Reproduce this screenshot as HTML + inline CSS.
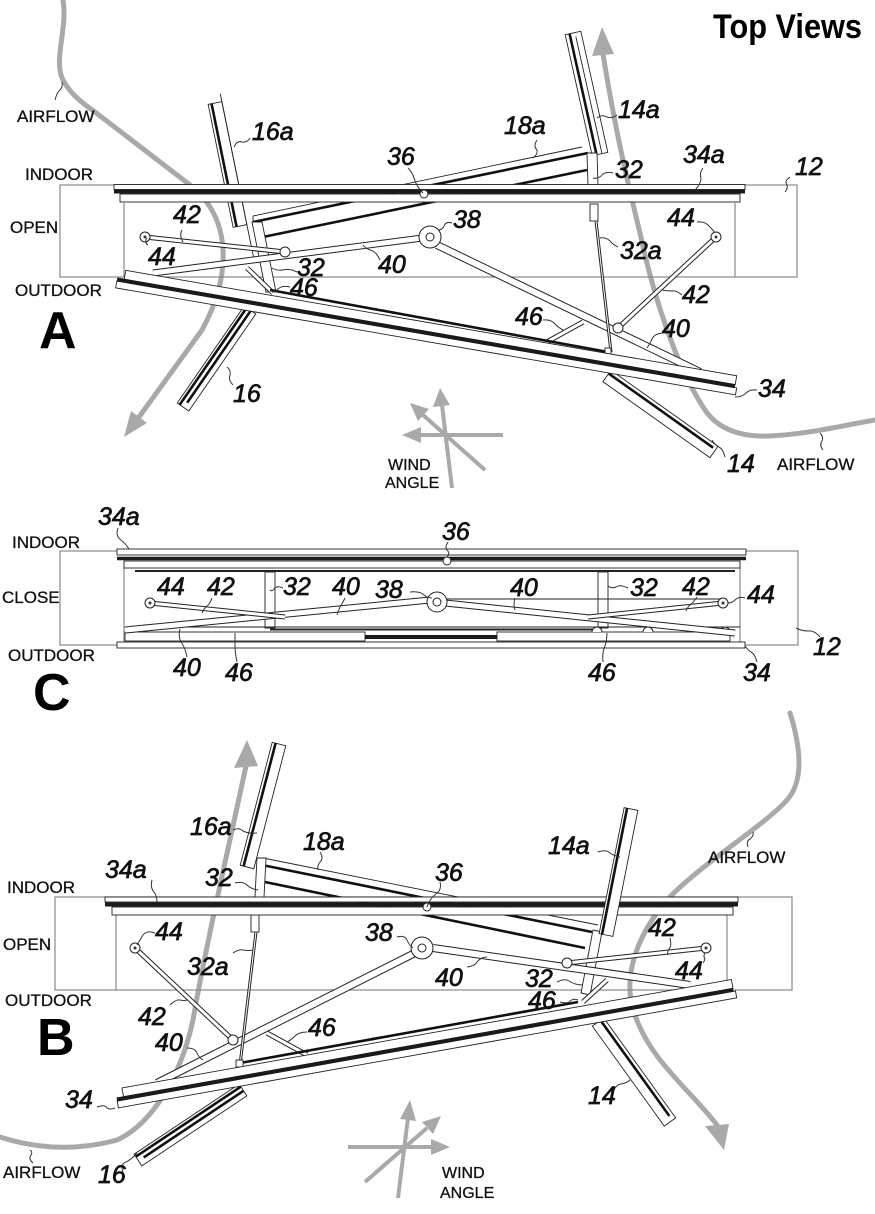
<!DOCTYPE html>
<html><head><meta charset="utf-8">
<style>
html,body{margin:0;padding:0;background:#fff;}
svg{display:block;}
.n{font-family:"Liberation Sans",sans-serif;font-style:italic;font-size:25px;fill:#111;stroke:#111;stroke-width:0.7;}
.u{font-family:"Liberation Sans",sans-serif;font-size:17px;fill:#111;stroke:#111;stroke-width:0.3;}
.w{font-family:"Liberation Sans",sans-serif;font-size:16px;fill:#111;stroke:#111;stroke-width:0.3;}
.big{font-family:"Liberation Sans",sans-serif;font-weight:bold;font-size:52px;fill:#000;}
.t{font-family:"Liberation Sans",sans-serif;font-weight:bold;font-size:34px;fill:#000;}
.air{fill:none;stroke:#a9a9a9;stroke-width:5;stroke-linecap:round;stroke-linejoin:round}
.wa{stroke:#a9a9a9;stroke-width:4;fill:none}
.ah{fill:#a9a9a9;stroke:none}
.ld{fill:none;stroke:#333;stroke-width:1}
.box{fill:none;stroke:#888;stroke-width:1.2}
.pn{fill:#fff;stroke:#222;stroke-width:0.9}
.bk{stroke:#111;stroke-width:2.6}
.th{stroke:#222;stroke-width:0.9}
.ro{stroke:#222;fill:none}
.ri{stroke:#fff;fill:none}
.cw{fill:#fff;stroke:#222;stroke-width:1}
</style></head><body>
<svg width="875" height="1214" viewBox="0 0 875 1214" xmlns="http://www.w3.org/2000/svg">

<!-- ================= PANEL A ================= -->
<path class="air" d="M63,0 C68,30 52,62 64,82 C72,95 82,103 95,112 L190,185 C232,218 232,275 202,330 L139,417"/>
<polygon class="ah" points="124,437 147,423 131,411"/>
<path class="air" d="M603,54 C612,110 622,160 640,233 C652,290 675,365 705,410 C720,432 745,437 770,436 C810,434 845,425 875,420"/>
<polygon class="ah" points="602,27 592,56 614,54"/>
<line class="wa" x1="420" y1="435" x2="503" y2="435"/>
<polygon class="ah" points="402,435 421,427 421,443"/>
<line class="wa" x1="452" y1="488" x2="442" y2="405"/>
<polygon class="ah" points="440,388 433,407 450,405"/>
<line class="wa" x1="485" y1="470" x2="423" y2="415"/>
<polygon class="ah" points="410,403 429,409 418,421"/>

<rect class="box" x="60" y="185" width="737" height="92"/>
<line class="box" x1="124" y1="203" x2="124" y2="277"/>
<line class="box" x1="735" y1="203" x2="735" y2="277"/>

<line class="th" x1="253" y1="216" x2="582" y2="147"/>
<line class="bk" x1="253" y1="222" x2="588" y2="153"/>
<line class="bk" x1="263" y1="237" x2="587" y2="170"/>
<line class="th" x1="253" y1="216" x2="253" y2="224"/>

<g transform="translate(215,103) rotate(78.51)">
<rect class="pn" x="0" y="-7" width="125.5" height="14"/>
<line class="bk" x1="0" y1="3.5" x2="125.5" y2="3.5"/>
<line class="th" x1="-8" y1="-7" x2="160" y2="-7"/>
</g>
<g transform="translate(573,33) rotate(77.42)">
<rect class="pn" x="0" y="-8" width="124" height="16"/>
<line class="bk" x1="0" y1="3.5" x2="124" y2="3.5"/>
<line class="th" x1="4" y1="-2" x2="124" y2="-2"/>
</g>
<polygon class="pn" points="252,222 262,222 276,292 266,292"/>
<polygon class="pn" points="587,153 597,153 598,185 588,185"/>
<rect class="pn" x="590" y="204" width="8" height="17"/>

<rect class="pn" x="114" y="184.5" width="631" height="5"/>
<line x1="114" y1="191.5" x2="745" y2="191.5" stroke="#1a1a1a" stroke-width="4"/>
<rect class="pn" x="120" y="194" width="620" height="8"/>
<circle class="cw" cx="424" cy="194" r="4"/>

<line class="ro" stroke-width="7" x1="430" y1="237" x2="153" y2="273"/>
<line class="ri" stroke-width="5" x1="430" y1="237" x2="153" y2="273"/>
<line class="ro" stroke-width="5" x1="145" y1="237" x2="285" y2="252"/>
<line class="ri" stroke-width="3" x1="145" y1="237" x2="285" y2="252"/>
<line class="ro" stroke-width="8" x1="437" y1="245" x2="700" y2="372"/>
<line class="ri" stroke-width="6" x1="437" y1="245" x2="700" y2="372"/>
<line class="ro" stroke-width="5" x1="716" y1="237" x2="618" y2="328"/>
<line class="ri" stroke-width="3" x1="716" y1="237" x2="618" y2="328"/>
<line class="ro" stroke-width="5" x1="247" y1="268" x2="273" y2="293"/>
<line class="ri" stroke-width="3" x1="247" y1="268" x2="273" y2="293"/>
<line class="ro" stroke-width="5" x1="545" y1="343" x2="583" y2="322"/>
<line class="ri" stroke-width="3" x1="545" y1="343" x2="583" y2="322"/>
<line class="ro" stroke-width="3" x1="596" y1="221" x2="611" y2="352"/>
<line class="ri" stroke-width="1" x1="596" y1="221" x2="611" y2="352"/>
<circle class="cw" cx="285" cy="252" r="5"/>
<circle class="cw" cx="618" cy="328" r="5"/>
<circle class="cw" cx="145" cy="237" r="5"/><circle cx="145" cy="237" r="1.5" fill="#333"/>
<circle class="cw" cx="716" cy="237" r="5"/><circle cx="716" cy="237" r="1.5" fill="#333"/>
<circle class="cw" cx="430" cy="237" r="11" stroke-width="1.3"/><circle class="cw" cx="430" cy="237" r="4"/>

<line class="bk" x1="270" y1="290" x2="608" y2="352"/>
<rect class="pn" x="605" y="348" width="6" height="7"/>

<g transform="translate(250,310) rotate(124.63)">
<rect class="pn" x="0" y="-7" width="117.9" height="14"/>
<line class="bk" stroke-width="2.2" x1="0" y1="4" x2="117.9" y2="4"/>
<line class="bk" stroke-width="2.2" x1="0" y1="-1" x2="112" y2="-1"/>
</g>
<g transform="translate(607,376) rotate(35.38)">
<rect class="pn" x="0" y="-7" width="131.2" height="14"/>
<line class="bk" x1="0" y1="-3" x2="128" y2="-3"/>
</g>

<g transform="translate(117,280) rotate(9.79)">
<rect class="pn" x="7" y="-11" width="620" height="9"/>
<rect class="pn" x="0" y="1" width="629" height="7"/>
<line x1="0" y1="-0.5" x2="627" y2="-0.5" stroke="#1a1a1a" stroke-width="4"/>
</g>

<path class="ld" d="M55,100 q2,-8 5,-10 q3,-3 2,-8"/>
<path class="ld" d="M234,147 q3,-7 8,-5 q5,1 8,-4"/>
<path class="ld" d="M537,140 q-4,6 0,10 q1,4 -4,8"/>
<path class="ld" d="M597,118 q5,-4 10,-1 q5,2 10,-2"/>
<path class="ld" d="M408,168 q4,4 6,10 q2,8 9,15"/>
<path class="ld" d="M703,168 q-4,5 -2,10 q0,6 -6,12"/>
<path class="ld" d="M790,177 q-6,4 -3,8 q1,4 -2,7"/>
<path class="ld" d="M613,173 q-8,-2 -12,3 q-4,3 -8,2"/>
<path class="ld" d="M182,230 q-3,5 1,12"/>
<path class="ld" d="M452,223 q-6,-2 -8,3 q-2,4 -6,4"/>
<path class="ld" d="M697,222 q8,-1 12,4 q4,4 6,7"/>
<path class="ld" d="M148,245 q-4,-3 -1,-7"/>
<path class="ld" d="M618,247 q-6,-3 -8,-6 q-4,-4 -10,-3"/>
<path class="ld" d="M380,260 q-4,-9 -10,-10 q-5,-2 -7,-5"/>
<path class="ld" d="M297,272 q-8,-4 -14,-2 q-6,1 -11,-2"/>
<path class="ld" d="M290,287 q-8,-2 -12,2 q-3,3 -6,3"/>
<path class="ld" d="M682,295 q-6,-5 -10,-4 q-5,0 -10,-1"/>
<path class="ld" d="M543,320 q8,-1 12,4 q4,4 8,6"/>
<path class="ld" d="M662,333 q-8,1 -10,6 q-2,5 -5,9"/>
<path class="ld" d="M233,385 q-5,-5 -3,-10 q1,-5 -3,-8"/>
<path class="ld" d="M757,390 q-8,-1 -12,4 q-4,3 -10,3"/>
<path class="ld" d="M725,457 q-2,-8 -6,-10 q-5,-3 -7,-7"/>
<path class="ld" d="M823,450 q-4,-5 -1,-9 q2,-4 -2,-8"/>

<text class="t" x="713" y="38" textLength="149" lengthAdjust="spacingAndGlyphs">Top Views</text>
<text class="u" x="17" y="122">AIRFLOW</text>
<text class="n" x="252" y="140">16a</text>
<text class="n" x="504" y="134">18a</text>
<text class="n" x="618" y="118">14a</text>
<text class="n" x="387" y="165">36</text>
<text class="n" x="683" y="163">34a</text>
<text class="n" x="795" y="175">12</text>
<text class="u" x="25" y="180">INDOOR</text>
<text class="n" x="615" y="178">32</text>
<text class="n" x="173" y="223">42</text>
<text class="n" x="453" y="228">38</text>
<text class="n" x="667" y="226">44</text>
<text class="u" x="10" y="233">OPEN</text>
<text class="n" x="148" y="265">44</text>
<text class="n" x="620" y="259">32a</text>
<text class="n" x="378" y="273">40</text>
<text class="n" x="297" y="276">32</text>
<text class="n" x="290" y="296">46</text>
<text class="u" x="15" y="296">OUTDOOR</text>
<text class="n" x="682" y="303">42</text>
<text class="big" x="39" y="348">A</text>
<text class="n" x="515" y="325">46</text>
<text class="n" x="662" y="337">40</text>
<text class="n" x="233" y="402">16</text>
<text class="n" x="758" y="397">34</text>
<text class="n" x="727" y="472">14</text>
<text class="u" x="777" y="470">AIRFLOW</text>
<text class="w" x="388" y="470">WIND</text>
<text class="w" x="385" y="488">ANGLE</text>

<!-- ================= PANEL C ================= -->
<rect class="box" x="60" y="551" width="738" height="94"/>
<line class="box" x1="124" y1="565" x2="124" y2="642"/>
<line class="box" x1="740" y1="565" x2="740" y2="642"/>
<rect class="pn" x="117" y="549" width="629" height="6"/>
<line x1="117" y1="558.5" x2="746" y2="558.5" stroke="#1a1a1a" stroke-width="3.5"/>
<rect class="pn" x="124" y="561" width="616" height="7"/>
<line x1="135" y1="571" x2="735" y2="571" stroke="#222" stroke-width="2"/>
<circle class="cw" cx="447" cy="561" r="4"/>
<rect class="pn" x="265" y="572" width="10" height="56"/>
<rect class="pn" x="598" y="572" width="10" height="56"/>
<line class="th" x1="125" y1="627" x2="740" y2="627"/>
<line x1="270" y1="629.5" x2="600" y2="629.5" stroke="#222" stroke-width="2"/>
<rect class="pn" x="125" y="632" width="240" height="9"/>
<rect class="pn" x="497" y="632" width="233" height="9"/>
<line x1="365" y1="637" x2="497" y2="637" stroke="#1a1a1a" stroke-width="4"/>
<rect class="pn" x="117" y="642" width="628" height="6"/>
<path class="cw" d="M133,632 a5,5 0 0 1 10,0"/>
<path class="cw" d="M592,632 a5,5 0 0 1 10,0"/>
<path class="cw" d="M643,632 a5,5 0 0 1 10,0"/>
<path class="cw" d="M720,632 a5,5 0 0 1 10,0"/>
<line class="th" x1="445" y1="599" x2="723" y2="599"/>
<line class="ro" stroke-width="7" x1="430" y1="600" x2="125" y2="630"/>
<line class="ri" stroke-width="5" x1="430" y1="600" x2="125" y2="630"/>
<line class="ro" stroke-width="5" x1="150" y1="603" x2="285" y2="617"/>
<line class="ri" stroke-width="3" x1="150" y1="603" x2="285" y2="617"/>
<line class="ro" stroke-width="7" x1="445" y1="603" x2="735" y2="633"/>
<line class="ri" stroke-width="5" x1="445" y1="603" x2="735" y2="633"/>
<line class="ro" stroke-width="5" x1="723" y1="603" x2="588" y2="617"/>
<line class="ri" stroke-width="3" x1="723" y1="603" x2="588" y2="617"/>
<circle class="cw" cx="150" cy="603" r="5"/><circle cx="150" cy="603" r="1.5" fill="#333"/>
<circle class="cw" cx="723" cy="603" r="5"/><circle cx="723" cy="603" r="1.5" fill="#333"/>
<circle class="cw" cx="437" cy="602" r="10" stroke-width="1.3"/><circle class="cw" cx="437" cy="602" r="4"/>
<path class="ld" d="M118,528 q-3,8 3,12 q5,4 8,9"/>
<path class="ld" d="M448,542 q-4,6 0,9 q2,3 -1,6"/>
<path class="ld" d="M283,588 q-6,-3 -9,1 q-2,3 -4,1"/>
<path class="ld" d="M410,592 q10,-1 14,3 q4,3 8,3"/>
<path class="ld" d="M345,598 q-3,6 -5,9 q-2,5 -3,8"/>
<path class="ld" d="M212,598 q-2,6 -6,9 q-3,3 -4,6"/>
<path class="ld" d="M515,598 q-2,6 0,12"/>
<path class="ld" d="M628,588 q-8,-4 -12,-1 q-4,2 -8,-1"/>
<path class="ld" d="M697,597 q-4,6 -7,8 q-3,3 -4,6"/>
<path class="ld" d="M745,598 q-6,-2 -10,2 q-3,3 -7,3"/>
<path class="ld" d="M187,657 q-2,-10 -6,-15 q-3,-6 -1,-13"/>
<path class="ld" d="M237,662 q-2,-10 -2,-16 q0,-8 0,-13"/>
<path class="ld" d="M603,662 q-1,-10 2,-16 q2,-6 2,-13"/>
<path class="ld" d="M757,662 q-2,-8 -6,-10 q-4,-3 -6,-6"/>
<path class="ld" d="M820,637 q-6,-7 -12,-6 q-6,0 -12,-3"/>
<text class="n" x="98" y="525">34a</text>
<text class="u" x="12" y="548">INDOOR</text>
<text class="n" x="442" y="540">36</text>
<text class="u" x="2" y="603">CLOSE</text>
<text class="n" x="157" y="595">44</text>
<text class="n" x="207" y="595">42</text>
<text class="n" x="283" y="595">32</text>
<text class="n" x="332" y="595">40</text>
<text class="n" x="375" y="598">38</text>
<text class="n" x="510" y="596">40</text>
<text class="n" x="630" y="596">32</text>
<text class="n" x="682" y="595">42</text>
<text class="n" x="747" y="603">44</text>
<text class="u" x="8" y="661">OUTDOOR</text>
<text class="n" x="173" y="676">40</text>
<text class="n" x="225" y="681">46</text>
<text class="n" x="588" y="681">46</text>
<text class="n" x="743" y="681">34</text>
<text class="n" x="813" y="655">12</text>
<text class="big" x="33" y="710">C</text>

<!-- ================= PANEL B ================= -->
<path class="air" d="M0,1137 C40,1150 80,1150 117,1140 C150,1125 180,1080 193,1020 C205,950 228,850 246,766"/>
<polygon class="ah" points="247,740 234,768 258,766"/>
<path class="air" d="M790,713 C800,745 805,780 787,800 C765,825 700,865 670,897 C640,930 620,975 635,1015 C650,1060 690,1090 717,1125"/>
<polygon class="ah" points="724,1150 705,1126 729,1124"/>
<line class="wa" x1="348" y1="1147" x2="432" y2="1147"/>
<polygon class="ah" points="450,1147 431,1139 431,1155"/>
<line class="wa" x1="398" y1="1198" x2="408" y2="1118"/>
<polygon class="ah" points="410,1100 400,1119 416,1121"/>
<line class="wa" x1="365" y1="1182" x2="427" y2="1128"/>
<polygon class="ah" points="441,1116 433,1134 422,1122"/>

<rect class="box" x="55" y="897" width="737" height="93"/>
<line class="box" x1="116" y1="913" x2="116" y2="990"/>
<line class="box" x1="727" y1="913" x2="727" y2="990"/>

<line class="th" x1="263" y1="858" x2="598" y2="925"/>
<line class="bk" x1="262" y1="865" x2="592" y2="932"/>
<line class="bk" x1="265" y1="882" x2="585" y2="948"/>

<g transform="translate(279,744) rotate(104.58)">
<rect class="pn" x="0" y="-7" width="127.1" height="14"/>
<line class="bk" x1="0" y1="3.5" x2="127.1" y2="3.5"/>
</g>
<polygon class="pn" points="257,858 266,858 264,897 255,897"/>
<rect class="pn" x="251" y="915" width="8" height="17"/>
<polygon class="pn" points="593,930 602,932 590,995 581,993"/>

<rect class="pn" x="105" y="897" width="633" height="5"/>
<line x1="105" y1="904.5" x2="738" y2="904.5" stroke="#1a1a1a" stroke-width="4"/>
<rect class="pn" x="112" y="907" width="621" height="8"/>
<circle class="cw" cx="427" cy="907" r="4"/>

<g transform="translate(631,809) rotate(101.22)">
<rect class="pn" x="0" y="-7" width="128.5" height="14"/>
<line class="bk" x1="0" y1="4" x2="128.5" y2="4"/>
</g>

<line class="ro" stroke-width="8" x1="415" y1="953" x2="157" y2="1083"/>
<line class="ri" stroke-width="6" x1="415" y1="953" x2="157" y2="1083"/>
<line class="ro" stroke-width="5" x1="135" y1="948" x2="233" y2="1040"/>
<line class="ri" stroke-width="3" x1="135" y1="948" x2="233" y2="1040"/>
<line class="ro" stroke-width="5" x1="267" y1="1033" x2="307" y2="1055"/>
<line class="ri" stroke-width="3" x1="267" y1="1033" x2="307" y2="1055"/>
<line class="ro" stroke-width="8" x1="433" y1="948" x2="690" y2="985"/>
<line class="ri" stroke-width="6" x1="433" y1="948" x2="690" y2="985"/>
<line class="ro" stroke-width="5" x1="706" y1="948" x2="567" y2="963"/>
<line class="ri" stroke-width="3" x1="706" y1="948" x2="567" y2="963"/>
<line class="ro" stroke-width="5" x1="583" y1="1002" x2="607" y2="980"/>
<line class="ri" stroke-width="3" x1="583" y1="1002" x2="607" y2="980"/>
<line class="ro" stroke-width="3" x1="256" y1="932" x2="240" y2="1065"/>
<line class="ri" stroke-width="1" x1="256" y1="932" x2="240" y2="1065"/>
<circle class="cw" cx="233" cy="1040" r="5"/>
<circle class="cw" cx="567" cy="963" r="5"/>
<circle class="cw" cx="135" cy="948" r="5"/><circle cx="135" cy="948" r="1.5" fill="#333"/>
<circle class="cw" cx="706" cy="948" r="5"/><circle cx="706" cy="948" r="1.5" fill="#333"/>
<circle class="cw" cx="422" cy="948" r="11" stroke-width="1.3"/><circle class="cw" cx="422" cy="948" r="4"/>

<line class="bk" x1="240" y1="1063" x2="578" y2="1002"/>
<rect class="pn" x="236" y="1060" width="7" height="7"/>

<g transform="translate(598,1022) rotate(54.25)">
<rect class="pn" x="0" y="-7" width="123.2" height="14"/>
<line class="bk" x1="0" y1="-3" x2="118" y2="-3"/>
</g>
<g transform="translate(243,1090) rotate(146.31)">
<rect class="pn" x="0" y="-7" width="126.2" height="14"/>
<line class="bk" stroke-width="2.2" x1="0" y1="4" x2="126.2" y2="4"/>
<line class="bk" stroke-width="2.2" x1="0" y1="-1" x2="120" y2="-1"/>
</g>

<g transform="translate(117,1100) rotate(-10.09)">
<rect class="pn" x="7" y="-11" width="619" height="9"/>
<rect class="pn" x="0" y="1" width="628" height="7"/>
<line x1="0" y1="-0.5" x2="626" y2="-0.5" stroke="#1a1a1a" stroke-width="4"/>
</g>

<path class="ld" d="M233,830 q6,-3 10,1 q6,3 14,2"/>
<path class="ld" d="M320,852 q4,6 0,10 q-3,4 -2,8"/>
<path class="ld" d="M152,880 q-2,8 2,12 q3,4 3,10"/>
<path class="ld" d="M235,883 q8,-2 12,2 q4,4 11,5"/>
<path class="ld" d="M155,933 q-8,-3 -12,2 q-3,5 -6,10"/>
<path class="ld" d="M233,953 q6,-4 10,-3 q5,1 10,0"/>
<path class="ld" d="M397,937 q8,-2 10,3 q2,5 6,8"/>
<path class="ld" d="M170,1005 q6,-6 10,-5 q4,1 7,0"/>
<path class="ld" d="M187,1048 q8,0 10,5 q2,5 6,7"/>
<path class="ld" d="M307,1032 q-8,0 -12,4 q-4,4 -8,6"/>
<path class="ld" d="M97,1107 q8,-3 10,1 q3,2 8,0"/>
<path class="ld" d="M33,1163 q-5,-4 -2,-8 q2,-3 -1,-5"/>
<path class="ld" d="M123,1172 q-3,-8 3,-10 q6,-3 11,-9"/>
<path class="ld" d="M440,882 q2,8 -4,12 q-6,4 -9,13"/>
<path class="ld" d="M598,852 q8,-3 12,1 q4,3 10,4"/>
<path class="ld" d="M748,847 q-2,-6 2,-8 q4,-3 3,-7"/>
<path class="ld" d="M670,938 q2,8 -1,11 q-2,3 -1,6"/>
<path class="ld" d="M703,963 q3,-4 1,-6 q0,-3 1,-4"/>
<path class="ld" d="M467,967 q8,-1 10,-5 q4,-5 10,-5"/>
<path class="ld" d="M557,982 q8,-4 12,-1 q6,4 14,4"/>
<path class="ld" d="M560,1002 q8,2 10,-1 q4,-3 8,-1"/>
<path class="ld" d="M613,1093 q2,-8 8,-9 q6,-1 9,-4"/>

<text class="n" x="190" y="835">16a</text>
<text class="n" x="303" y="850">18a</text>
<text class="n" x="105" y="878">34a</text>
<text class="n" x="205" y="886">32</text>
<text class="u" x="7" y="893">INDOOR</text>
<text class="n" x="155" y="940">44</text>
<text class="u" x="3" y="950">OPEN</text>
<text class="n" x="187" y="975">32a</text>
<text class="n" x="365" y="941">38</text>
<text class="u" x="5" y="1006">OUTDOOR</text>
<text class="n" x="138" y="1025">42</text>
<text class="n" x="308" y="1036">46</text>
<text class="big" x="37" y="1055">B</text>
<text class="n" x="155" y="1051">40</text>
<text class="n" x="65" y="1108">34</text>
<text class="u" x="3" y="1178">AIRFLOW</text>
<text class="n" x="98" y="1183">16</text>
<text class="n" x="435" y="881">36</text>
<text class="n" x="548" y="854">14a</text>
<text class="u" x="708" y="863">AIRFLOW</text>
<text class="n" x="648" y="936">42</text>
<text class="n" x="435" y="986">40</text>
<text class="n" x="675" y="979">44</text>
<text class="n" x="525" y="987">32</text>
<text class="n" x="528" y="1009">46</text>
<text class="n" x="588" y="1104">14</text>
<text class="w" x="442" y="1178">WIND</text>
<text class="w" x="440" y="1198">ANGLE</text>
</svg>
</body></html>
